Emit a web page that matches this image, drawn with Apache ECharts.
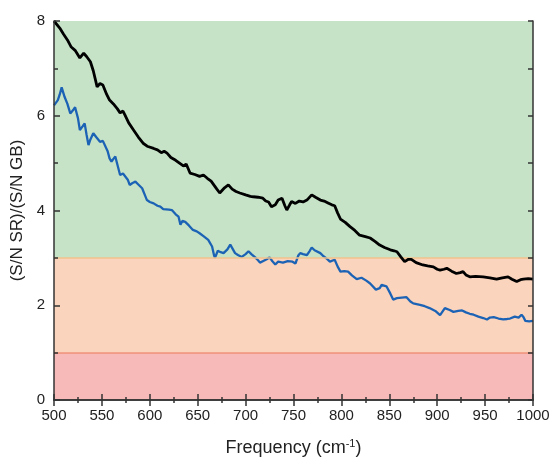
<!DOCTYPE html>
<html>
<head>
<meta charset="utf-8">
<script src="https://cdn.jsdelivr.net/npm/echarts@6/dist/echarts.min.js"></script>
<style>html,body{margin:0;padding:0;background:#fff;}#c{width:551px;height:459px;}</style>
</head>
<body>
<div id="c"></div>
<script>
var blackFreq = [500,502,506,510,514,518,522,527,531,534,538,541,545,548,551,555,558,562,566,569,572,574,578,583,588,593,598,604,608,612,615,618,622,627,631,635,638,642,647,652,656,660,664,666,670,673,678,682,686,690,694,700,705,708,713,718,721,724,727,729,731,734,738,741,743,746,748,752,756,760,764,769,773,778,782,786,790,793,796,799,804,809,814,819,825,830,835,840,845,851,855,858,862,866,870,873,878,885,890,896,900,903,907,910,915,920,924,927,930,934,940,948,955,962,968,974,978,983,987,990,995,1000];
var blackVals = [8.00,7.97,7.85,7.72,7.60,7.45,7.38,7.22,7.32,7.25,7.14,6.95,6.61,6.68,6.65,6.45,6.33,6.25,6.15,6.06,6.10,6.02,5.85,5.70,5.55,5.42,5.35,5.31,5.28,5.22,5.25,5.21,5.12,5.06,5.00,4.94,4.98,4.79,4.76,4.72,4.75,4.68,4.62,4.58,4.45,4.37,4.48,4.54,4.45,4.40,4.37,4.33,4.30,4.29,4.28,4.26,4.20,4.18,4.08,4.05,4.12,4.22,4.26,4.10,4.01,4.12,4.19,4.15,4.20,4.18,4.22,4.33,4.28,4.22,4.20,4.16,4.12,4.10,3.95,3.82,3.75,3.66,3.58,3.48,3.45,3.42,3.35,3.27,3.22,3.17,3.15,3.13,3.02,2.92,2.97,2.97,2.90,2.85,2.83,2.81,2.76,2.74,2.76,2.78,2.72,2.67,2.69,2.71,2.64,2.60,2.61,2.60,2.58,2.55,2.58,2.60,2.55,2.50,2.54,2.55,2.56,2.55];
var blueFreq = [500,501,504,506,508,511,514,517,520,522,525,527,530,532,534,536,538,541,544,548,551,553,556,558,560,562,564,566,569,572,574,577,579,582,585,588,592,595,597,600,604,608,611,614,616,620,623,627,630,632,634,637,641,645,649,652,656,661,665,667,668,671,674,677,681,684,686,689,692,696,700,703,706,710,713,715,719,722,725,728,731,734,736,739,741,744,746,749,752,755,757,760,764,767,769,772,774,778,781,785,788,790,793,796,799,803,807,811,816,821,826,830,836,840,842,847,851,854,858,863,868,872,875,882,887,892,898,903,908,913,917,922,926,930,934,938,943,948,952,955,959,964,969,973,976,981,985,988,990,992,996,1000];
var blueVals = [6.22,6.26,6.33,6.45,6.60,6.40,6.25,6.05,6.12,6.18,5.95,5.70,5.78,5.84,5.60,5.38,5.50,5.63,5.55,5.45,5.47,5.49,5.25,5.10,5.03,5.09,5.14,4.98,4.75,4.78,4.79,4.65,4.54,4.58,4.61,4.55,4.47,4.32,4.22,4.18,4.15,4.10,4.08,4.03,4.00,4.02,4.01,3.92,3.87,3.70,3.78,3.76,3.68,3.59,3.56,3.52,3.46,3.38,3.24,3.06,3.00,3.15,3.12,3.10,3.18,3.28,3.24,3.10,3.06,3.02,3.08,3.14,3.08,3.01,2.95,2.90,2.94,2.97,3.01,2.93,2.86,2.92,2.95,2.90,2.86,2.93,2.96,2.92,2.88,3.05,3.10,3.08,3.06,3.15,3.22,3.16,3.13,3.10,3.04,2.98,2.92,2.90,2.96,2.82,2.71,2.72,2.71,2.63,2.55,2.58,2.52,2.46,2.33,2.36,2.43,2.40,2.25,2.12,2.15,2.16,2.17,2.08,2.04,2.01,1.98,1.94,1.88,1.79,1.94,1.90,1.86,1.88,1.89,1.85,1.82,1.80,1.76,1.73,1.70,1.74,1.75,1.72,1.70,1.71,1.72,1.76,1.74,1.80,1.75,1.67,1.66,1.67];
var bandBounds = [0, 1, 3, 8];
var xLabel = 'Frequency';
var yLabel = '(S/N SR)/(S/N GB)';

function pairs(f, v) { return f.map(function (x, i) { return [x, v[i]]; }); }

var font = 'Liberation Sans';
var axisLineStyle = { color: '#333', width: 1.5 };
var tickStyle = { color: '#333', width: 1.5 };

var chart = echarts.init(document.getElementById('c'), null, { renderer: 'canvas' });
chart.setOption({
  animation: false,
  backgroundColor: '#fff',
  grid: { left: 54, right: 18, top: 21, bottom: 59, show: false, containLabel: false, outerBoundsMode: 'none' },
  xAxis: [{
    type: 'value', min: 500, max: 1000, interval: 50, position: 'bottom', z: 10,
    name: xLabel + ' (cm{sup|-1})', nameLocation: 'middle', nameGap: 38,
    nameTextStyle: { fontFamily: font, fontSize: 18, color: '#222',
      rich: { sup: { fontSize: 11, verticalAlign: 'top', padding: [0, 0, 9, 0], fontFamily: font, color: '#222' } } },
    axisLine: { show: true, lineStyle: axisLineStyle },
    axisTick: { show: true, inside: true, length: 6, lineStyle: tickStyle },
    minorTick: { show: true, splitNumber: 2, length: 3, lineStyle: tickStyle },
    axisLabel: { fontFamily: font, fontSize: 15, color: '#222', margin: 8, formatter: function (v) { return String(v); } },
    splitLine: { show: false }
  }, {
    type: 'value', min: 500, max: 1000, interval: 50, position: 'top', z: 10,
    axisLine: { show: true, lineStyle: axisLineStyle },
    axisTick: { show: true, inside: true, length: 6, lineStyle: tickStyle },
    minorTick: { show: true, splitNumber: 2, length: 3, lineStyle: tickStyle },
    axisLabel: { show: false }, splitLine: { show: false }
  }],
  yAxis: [{
    type: 'value', min: 0, max: 8, interval: 2, position: 'left', z: 10,
    name: yLabel, nameLocation: 'middle', nameGap: 23, nameRotate: 90,
    nameTextStyle: { fontFamily: font, fontSize: 17, color: '#222' },
    axisLine: { show: true, lineStyle: axisLineStyle },
    axisTick: { show: true, inside: true, length: 6, lineStyle: tickStyle },
    minorTick: { show: true, splitNumber: 2, length: 4, lineStyle: tickStyle },
    axisLabel: { fontFamily: font, fontSize: 15, color: '#222', margin: 9 },
    splitLine: { show: false }
  }, {
    type: 'value', min: 0, max: 8, interval: 1, position: 'right', z: 10,
    axisLine: { show: true, lineStyle: axisLineStyle },
    axisTick: { show: true, inside: true, length: 5, lineStyle: tickStyle },
    axisLabel: { show: false }, splitLine: { show: false }
  }],
  series: [{
    type: 'line', xAxisIndex: 0, yAxisIndex: 0, data: [], silent: true, z: 1,
    markArea: {
      silent: true,
      data: [
        [{ yAxis: bandBounds[2], itemStyle: { color: '#c6e3c7' } }, { yAxis: bandBounds[3] }],
        [{ yAxis: bandBounds[1], itemStyle: { color: '#fad4bd' } }, { yAxis: bandBounds[2] }],
        [{ yAxis: bandBounds[0], itemStyle: { color: '#f8b9b9' } }, { yAxis: bandBounds[1] }]
      ]
    },
    markLine: {
      silent: true, symbol: 'none', label: { show: false },
      data: [
        { yAxis: bandBounds[2], lineStyle: { color: '#f2c28c', width: 1.5, type: 'solid' } },
        { yAxis: bandBounds[1], lineStyle: { color: '#f09178', width: 1.5, type: 'solid' } }
      ]
    }
  }, {
    type: 'line', name: 'black', data: pairs(blackFreq, blackVals), showSymbol: false,
    lineStyle: { color: '#000', width: 2.8 }, z: 5
  }, {
    type: 'line', name: 'blue', data: pairs(blueFreq, blueVals), showSymbol: false,
    lineStyle: { color: '#1d63b5', width: 2.3 }, z: 4
  }]
});
</script>
</body>
</html>
